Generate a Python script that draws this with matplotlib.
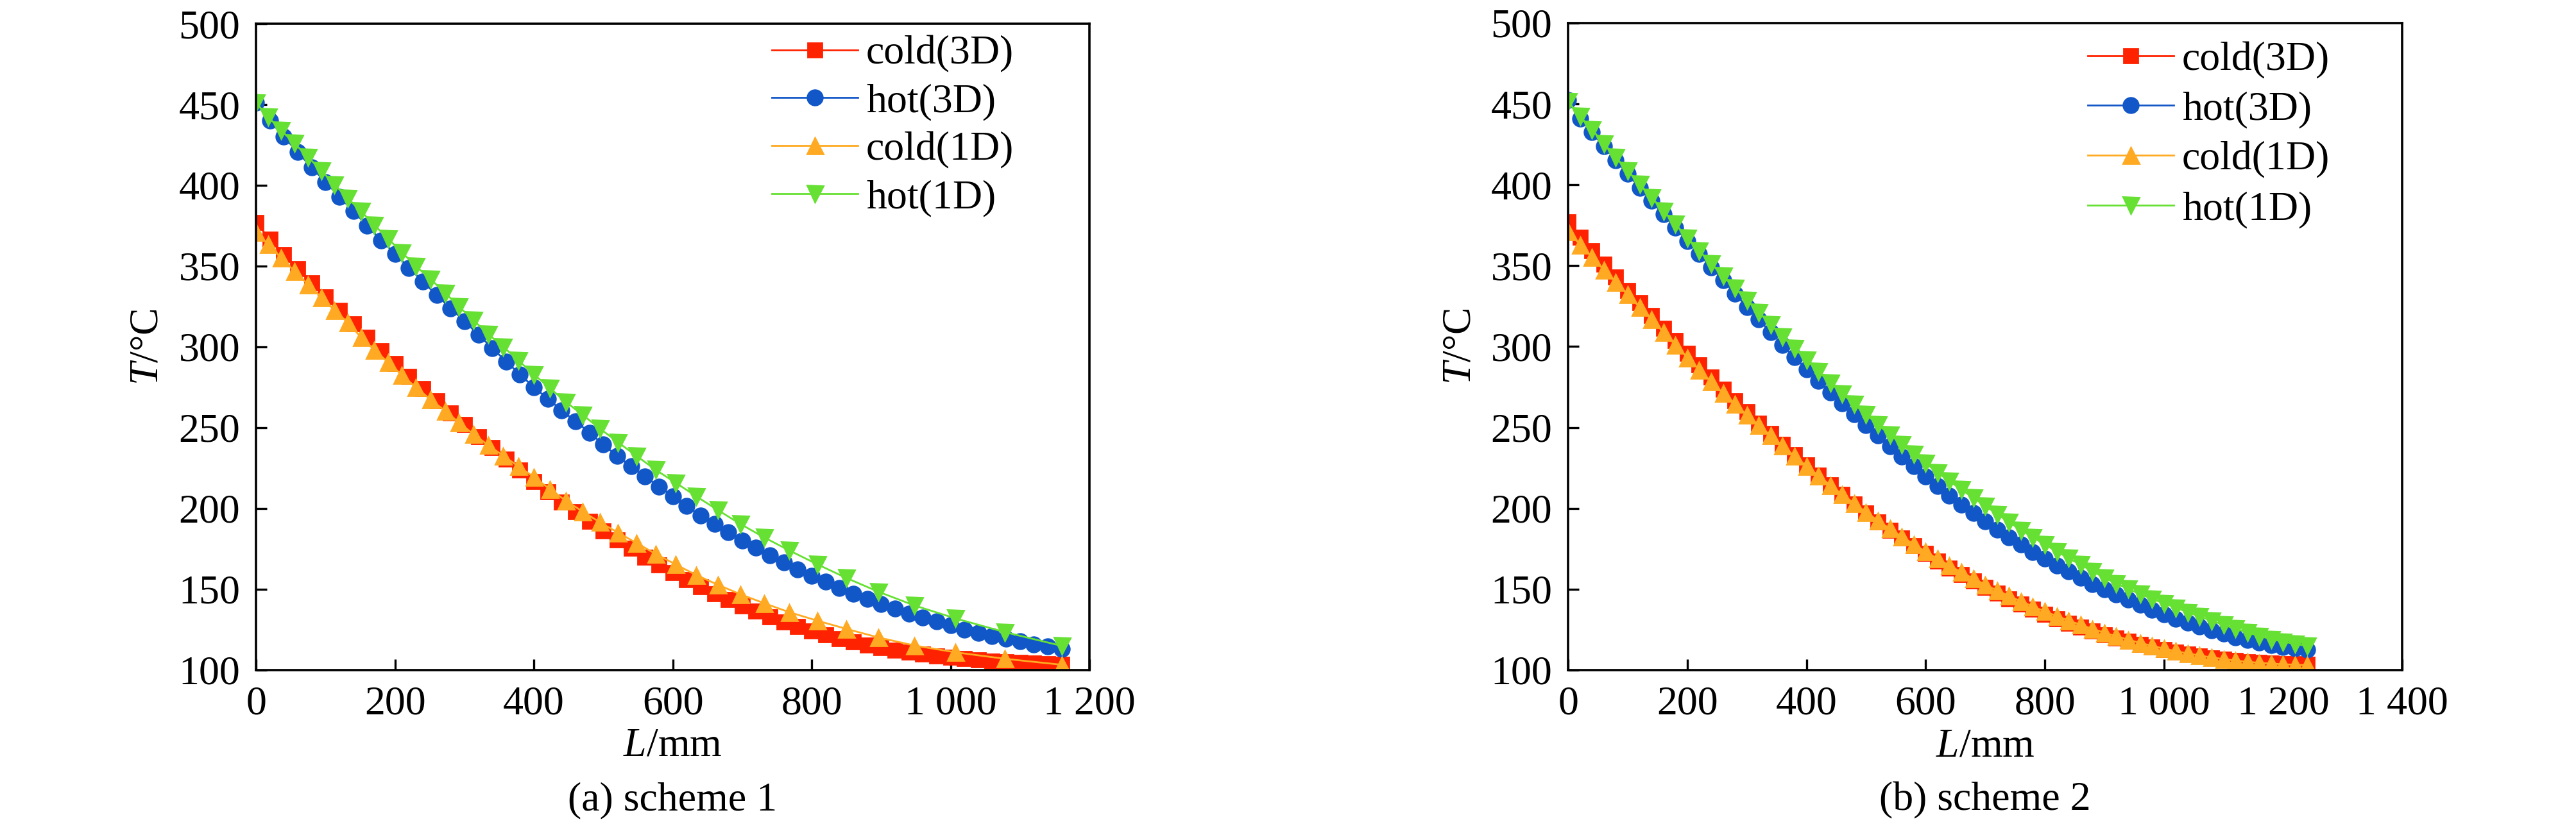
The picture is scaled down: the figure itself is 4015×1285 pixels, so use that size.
import matplotlib
matplotlib.use('Agg')
import matplotlib.pyplot as plt

plt.rcParams['font.family'] = ['Liberation Serif', 'DejaVu Serif']
plt.rcParams['mathtext.fontset'] = 'custom'
plt.rcParams['mathtext.it'] = 'Liberation Serif:italic'
plt.rcParams['mathtext.rm'] = 'Liberation Serif'

RED = '#ff2200'
BLUE = '#1257c8'
ORANGE = '#ffaa22'
GREEN = '#66e033'

# ---- scheme 1 ----
# 3D results, every 20 mm
x3d_s1 = [0, 20, 40, 60, 80, 100, 120, 140, 160, 180, 200, 220, 240, 260, 280,
          300, 320, 340, 360, 380, 400, 420, 440, 460, 480, 500, 520, 540, 560,
          580, 600, 620, 640, 660, 680, 700, 720, 740, 760, 780, 800, 820, 840,
          860, 880, 900, 920, 940, 960, 980, 1000, 1020, 1040, 1060, 1080, 1100,
          1120, 1140, 1160]
cold3d_s1 = [377, 366.5, 357.2, 348.3, 339.6, 331, 322.6, 314.2, 306, 297.8,
             289.6, 281.8, 274.2, 266.6, 259.2, 251.8, 244.6, 237.6, 230.6, 223.8,
             216.8, 210.4, 204, 197.9, 192, 186.2, 180.6, 175.2, 170, 165,
             160.3, 155.8, 151.5, 147.4, 143.5, 139.8, 136.3, 133, 129.9, 127,
             124.3, 121.8, 119.5, 117.4, 115.5, 113.8, 112.3, 111, 109.8, 108.7,
             107.8, 107, 106.3, 105.7, 105.2, 104.7, 104.3, 103.9, 103.5]
hot3d_s1 = [451, 440, 430, 420.5, 411, 402, 393, 384, 375, 366,
            357.7, 349, 340.5, 332, 324, 316, 307.6, 299.3, 291, 283,
            275, 268, 260.7, 254, 247, 239.5, 232.5, 226, 219.7, 213.6,
            207.6, 201.6, 195.8, 190.4, 185.3, 180.3, 175.6, 171, 166.5, 162.2,
            158.4, 154.6, 150.8, 147.3, 144, 141, 137.9, 135, 132.5, 130,
            127.6, 125.1, 123, 121, 119.3, 117.7, 116, 114.7, 113.1]
# 1D results
x1d_s1 = [0, 17, 36, 55, 75, 94, 113, 132, 151, 170, 190, 210, 230, 251, 272,
          292, 313, 334, 356, 378, 400, 423, 446, 470, 495, 521, 548, 575, 604,
          634, 665, 697, 732, 768, 808, 850, 896, 948, 1007, 1078, 1160]
cold1d_s1 = [371, 363.4, 355, 347, 338.5, 330.7, 322.7, 315, 306, 298.2,
             290.5, 282.6, 275, 267.5, 260.5, 253.2, 246, 239.3, 232.6, 226,
             219.5, 212, 204.8, 198.2, 191.5, 185.1, 178.6, 172, 165.4, 158.8,
             152.8, 147, 141.3, 135.8, 130.6, 125.5, 120.2, 115.2, 111, 107, 103.3]
hot1d_s1 = [451, 442.5, 434, 426, 417.5, 409, 400.5, 392, 384, 375.5,
            367, 358.5, 350, 342, 333.5, 325, 316.5, 308, 300, 291.5,
            283, 274.5, 266, 258, 249.5, 241, 232.5, 224, 216, 207.5,
            199, 190.5, 182, 174, 165.5, 157, 148.5, 140, 132, 123.5, 115]

# ---- scheme 2 ----
x_s2 = [0, 20, 40, 60, 80, 100, 120, 140, 160, 180, 200, 220, 240, 260, 280,
        300, 320, 340, 360, 380, 400, 420, 440, 460, 480, 500, 520, 540, 560,
        580, 600, 620, 640, 660, 680, 700, 720, 740, 760, 780, 800, 820, 840,
        860, 880, 900, 920, 940, 960, 980, 1000, 1020, 1040, 1060, 1080, 1100,
        1120, 1140, 1160, 1180, 1200, 1220, 1240]
cold3d_s2 = [377, 367.6, 359.3, 351, 342.9, 334.8, 327, 319.2, 311.4, 303.7,
             296, 288.5, 281, 273.7, 266.6, 259.6, 252.8, 246.2, 239.6, 233.2,
             226.8, 220.6, 214.5, 208.6, 202.8, 197.1, 191.7, 186.5, 181.5, 176.7,
             172, 167.5, 163.2, 159.1, 155.1, 151.3, 147.6, 144.1, 140.8, 137.6,
             134.6, 131.8, 129.1, 126.6, 124.2, 121.9, 119.8, 117.8, 115.9, 114.2,
             112.6, 111.1, 109.8, 108.6, 107.6, 106.7, 105.9, 105.2, 104.7, 104.3,
             104, 103.8, 103.6]
hot3d_s2 = [452.5, 441, 432.5, 423.7, 415.3, 406.7, 398.3, 390, 381.8, 373.4,
            365.4, 357.2, 349, 341, 332.8, 324.5, 316.7, 308.8, 301, 293.3,
            286, 278.8, 271.7, 264.9, 258, 251.5, 245, 238.4, 232, 226,
            219.8, 213.7, 207.9, 202.4, 197.1, 191.8, 186.9, 182, 177.5, 173,
            168.8, 164.8, 160.9, 157.1, 153.3, 149.9, 146.6, 143.4, 140.3, 137.4,
            134.6, 131.8, 129.3, 126.9, 124.5, 122.4, 120.4, 118.6, 117, 115.6,
            114.4, 113.5, 112.8]
cold1d_s2 = [371, 363, 355.3, 347.3, 339.7, 332.2, 324.3, 316.8, 308.9, 300.9,
             293.2, 285.6, 278.3, 271.1, 264.5, 257.7, 251.3, 245, 238.6, 232.3,
             226.2, 220.2, 214.3, 208.6, 203, 197.6, 192.4, 187.4, 182.5, 177.8,
             173.2, 168.8, 164.6, 160.5, 156.6, 152.8, 149.2, 145.8, 142.5, 139.3,
             136.3, 133.4, 130.6, 128, 125.5, 123.1, 120.9, 118.8, 116.8, 115,
             113.3, 111.7, 110.3, 109, 107.8, 106.8, 105.9, 105.1, 104.5, 104,
             103.6, 103.3, 103]
hot1d_s2 = [451.5, 442.4, 434.2, 425.6, 417, 408.7, 400.5, 392.3, 384, 375.8,
            367.3, 359.2, 351.3, 343.8, 336.2, 328.8, 321.2, 313.8, 306.3, 299,
            291.8, 284.6, 277.7, 271, 264.4, 258, 251.8, 245.6, 239.6, 233.7,
            227.9, 222.2, 216.9, 211.6, 206.5, 201.5, 196.5, 191.5, 186.6, 182.1,
            177.7, 173.4, 169.2, 165.2, 161.1, 157.1, 153.5, 150.2, 147, 144.1,
            141.3, 138.6, 135.8, 133.1, 130.5, 128, 125.6, 123.3, 121.1, 119.2,
            117.6, 116.2, 115]

yticks = [100, 150, 200, 250, 300, 350, 400, 450, 500]
xticks_s1 = [0, 200, 400, 600, 800, 1000, 1200]
xlabels_s1 = ['0', '200', '400', '600', '800', '1 000', '1 200']
xticks_s2 = [0, 200, 400, 600, 800, 1000, 1200, 1400]
xlabels_s2 = ['0', '200', '400', '600', '800', '1 000', '1 200', '1 400']

FS = 23


def plot_scheme(ax, x3d, cold3d, hot3d, x1d, cold1d, hot1d,
                xticks, xlabels, legend_anchor, row_gap, caption, ylab_x):
    ax.plot(x3d, cold3d, color=RED, marker='s', ms=8, lw=1.0, label='cold(3D)')
    ax.plot(x3d, hot3d, color=BLUE, marker='o', ms=8.5, lw=1.0, label='hot(3D)')
    ax.plot(x1d, cold1d, color=ORANGE, marker='^', ms=9, lw=1.0, label='cold(1D)')
    ax.plot(x1d, hot1d, color=GREEN, marker='v', ms=9, lw=1.0, label='hot(1D)')

    ax.set_xlim(xticks[0], xticks[-1])
    ax.set_ylim(100, 500)
    ax.set_xticks(xticks)
    ax.set_xticklabels(xlabels)
    ax.set_yticks(yticks)
    ax.tick_params(direction='in', length=6, width=1.2, labelsize=FS, pad=9,
                   top=False, right=False)
    for sp in ax.spines.values():
        sp.set_linewidth(1.3)

    ax.set_xlabel('$L$/mm', fontsize=FS)
    ax.xaxis.label.set_va('center')
    ax.xaxis.set_label_coords(0.5, -0.118)
    ax.set_ylabel('$T$/°C', fontsize=FS)
    ax.yaxis.label.set_va('center')
    ax.yaxis.set_label_coords(ylab_x, 0.5)

    ax.text(0.5, -0.202, caption, transform=ax.transAxes, ha='center',
            va='center', fontsize=FS)

    ax.legend(loc='upper left', bbox_to_anchor=legend_anchor, frameon=False,
              fontsize=FS, handlelength=2.1, handletextpad=0.2,
              labelspacing=row_gap, borderpad=0, borderaxespad=0, numpoints=1)


fig = plt.figure(figsize=(20.08, 6.425), dpi=200)
ax1 = fig.add_axes([0.0994, 0.1868, 0.3234, 0.7844])
ax2 = fig.add_axes([0.6086, 0.1868, 0.3237, 0.7852])

plot_scheme(ax1, x3d_s1, cold3d_s1, hot3d_s1, x1d_s1, cold1d_s1, hot1d_s1,
            xticks_s1, xlabels_s1, (0.619, 0.982), 0.25, '(a) scheme 1', -0.130)
plot_scheme(ax2, x_s2, cold3d_s2, hot3d_s2, x_s2, cold1d_s2, hot1d_s2,
            xticks_s2, xlabels_s2, (0.623, 0.972), 0.30, '(b) scheme 2', -0.129)

fig.savefig('out.png', dpi=200)
